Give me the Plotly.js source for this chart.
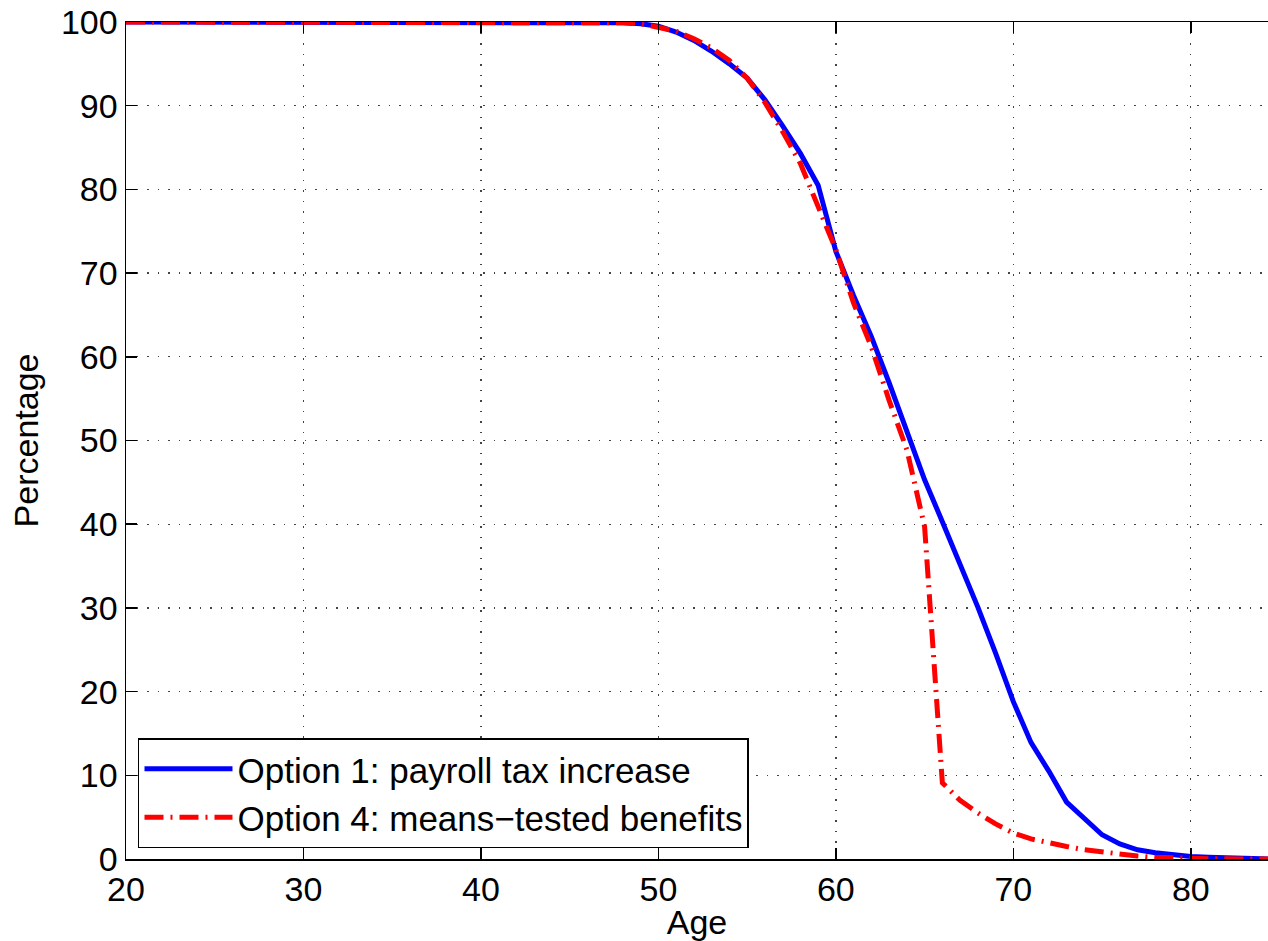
<!DOCTYPE html>
<html>
<head>
<meta charset="utf-8">
<script src="https://cdn.plot.ly/plotly-3.0.1.min.js"></script>
<style>html,body{margin:0;padding:0;background:#fff;}#chart{width:1268px;height:941px;}</style>
</head>
<body>
<div id="chart"></div>
<script>
const ages = [20,25,30,35,40,45,46,47,48,49,50,51,52,53,54,55,56,57,58,59,60,61,62,63,64,65,66,67,68,69,70,71,72,73,74,75,76,77,78,79,80,81,82,83,84,85];
const option1 = [100,100,100,100,100,100,100,99.95,99.9,99.8,99.5,98.8,97.8,96.5,95,93.3,90.7,87.6,84.3,80.5,72.6,67.3,62.4,56.9,51.3,45.3,40.3,35.3,30.1,24.6,18.8,13.9,10.5,6.8,4.8,2.9,1.8,1.1,0.75,0.5,0.3,0.2,0.1,0.05,0.02,0];
const option4 = [100,100,100,100,100,100,100,100,99.9,99.8,99.4,98.9,98,96.9,95.4,93.3,90.4,86.9,83.1,77.8,72.8,66.4,61.2,54.8,48.9,39.7,9.1,7.0,5.5,4.2,3.1,2.4,1.9,1.5,1.1,0.8,0.55,0.35,0.2,0.1,0.05,0.03,0.02,0.01,0,0];
const seriesNames = ['Option 1: payroll tax increase', 'Option 4: means\u2212tested benefits'];
const xTicks = [20,30,40,50,60,70,80];
const yTicks = [0,10,20,30,40,50,60,70,80,90,100];

const font = {family: 'Liberation Sans, Arial, sans-serif', size: 34, color: '#000'};
const traces = [
  {x: ages, y: option1, name: seriesNames[0], type: 'scatter', mode: 'lines',
   line: {color: '#0000ff', width: 5}},
  {x: ages, y: option4, name: seriesNames[1], type: 'scatter', mode: 'lines',
   line: {color: '#ff0000', width: 5, dash: '19px,7px,2px,7px'}}
];
const axisCommon = {
  showline: true, linecolor: '#000', linewidth: 1.5,
  ticks: 'inside', ticklen: 11, tickwidth: 1.5, tickcolor: '#000',
  showgrid: true, gridcolor: '#444', gridwidth: 1.3, griddash: '1.5px,9px',
  zeroline: false, tickfont: font
};
const layout = {
  width: 1268, height: 941,
  margin: {l: 126, r: 0, t: 22, b: 82},
  paper_bgcolor: '#fff', plot_bgcolor: '#fff',
  font: font,
  showlegend: true,
  legend: {x: 0.0105, y: 0.013, xanchor: 'left', yanchor: 'bottom',
           bgcolor: '#fff', bordercolor: '#000', borderwidth: 1.5,
           font: {family: font.family, size: 35, color: '#000'},
           itemwidth: 88, tracegroupgap: 0},
  xaxis: Object.assign({}, axisCommon, {
    range: [20, 84.35], tickvals: xTicks, ticktext: xTicks.map(String), mirror: 'ticks',
    title: {text: 'Age', font: font, standoff: 4}
  }),
  yaxis: Object.assign({}, axisCommon, {
    range: [0, 100], tickvals: yTicks, ticktext: yTicks.map(String), mirror: false,
    title: {text: 'Percentage', font: font, standoff: 12}
  })
};
Plotly.newPlot('chart', traces, layout, {displayModeBar: false, staticPlot: true});
</script>
</body>
</html>
